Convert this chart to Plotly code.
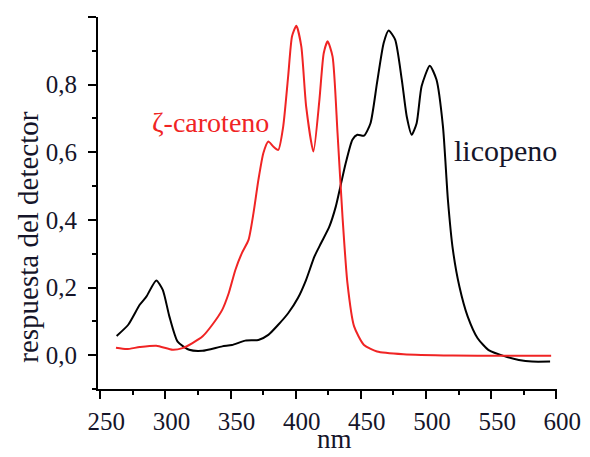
import plotly.graph_objects as go

# licopeno (black)
lic_x = [262.6, 271.5, 280.3, 285.4, 293.0, 298.0, 303.1, 309.4, 318.3, 328.4, 343.6, 351.1, 361.3,
         371.4, 379.0, 386.6, 394.2, 401.7, 408.0, 414.4, 419.4, 425.8, 430.8, 434.6, 438.4, 443.5,
         447.3, 452.4, 457.4, 462.4, 467.5, 471.3, 476.3, 481.4, 485.2, 489.0, 492.8, 496.6, 502.9,
         508.0, 513.0, 516.8, 520.6, 525.6, 532.0, 539.6, 548.4, 561.1, 571.2, 581.3, 595.2]
lic_y = [0.057, 0.090, 0.149, 0.173, 0.221, 0.193, 0.114, 0.040, 0.016, 0.013, 0.026, 0.030, 0.043,
         0.045, 0.060, 0.090, 0.124, 0.169, 0.223, 0.292, 0.331, 0.380, 0.440, 0.504, 0.568, 0.637,
         0.652, 0.649, 0.686, 0.805, 0.923, 0.960, 0.933, 0.815, 0.706, 0.652, 0.686, 0.795, 0.856,
         0.815, 0.676, 0.459, 0.312, 0.203, 0.114, 0.050, 0.014, -0.004, -0.014, -0.019, -0.019]

# zeta-caroteno (red)
car_x = [262.1, 270.3, 280.3, 293.0, 305.6, 313.2, 320.8, 328.4, 336.0, 343.6, 348.6, 353.7, 358.7,
         363.8, 367.6, 371.4, 375.2, 379.0, 382.8, 386.6, 390.4, 394.2, 397.2, 400.5, 404.3, 408.0,
         413.6, 418.2, 421.5, 424.5, 428.3, 432.1, 435.9, 439.7, 444.8, 452.4, 462.4, 482.7, 520.6,
         558.5, 596.0]
car_y = [0.022, 0.018, 0.024, 0.028, 0.016, 0.021, 0.036, 0.055, 0.090, 0.134, 0.183, 0.252, 0.302,
         0.341, 0.420, 0.519, 0.598, 0.632, 0.617, 0.607, 0.676, 0.824, 0.943, 0.974, 0.913, 0.736,
         0.602, 0.755, 0.893, 0.928, 0.883, 0.657, 0.410, 0.213, 0.085, 0.030, 0.011, 0.003, -0.001,
         -0.002, -0.002]

y_tickvals = [0.0, 0.2, 0.4, 0.6, 0.8, 1.0]
y_ticktext = ["0,0", "0,2", "0,4", "0,6", "0,8", ""]
x_tickvals = [250, 300, 350, 400, 450, 500, 550, 600]

FONT = "Liberation Serif"
TXT = "#15152a"
RED = "#f02424"

# the page adds an 8px body margin; compensate
OFF = 8
W, H = 590 - OFF, 457 - OFF
L, R, T, B = 98, 562, 17, 389   # plot-area edges in screenshot pixels

fig = go.Figure()
fig.add_trace(go.Scatter(x=lic_x, y=lic_y, mode="lines",
                         line=dict(color="black", width=2, shape="spline", smoothing=0.6)))
fig.add_trace(go.Scatter(x=car_x, y=car_y, mode="lines",
                         line=dict(color=RED, width=2, shape="spline", smoothing=0.6)))


def pix(px, py):
    return dict(xref="paper", yref="paper", x=(px - L) / (R - L), y=(B - py) / (B - T),
                xanchor="center", yanchor="middle", showarrow=False)


fig.update_layout(
    width=W, height=H,
    margin=dict(l=L - OFF, r=590 - R, t=T - OFF, b=457 - B),
    paper_bgcolor="white", plot_bgcolor="white",
    showlegend=False,
    font=dict(family=FONT, color=TXT, size=25),
    xaxis=dict(range=[248.3, 600.5], showgrid=False, zeroline=False,
               showline=True, linecolor="black", linewidth=2,
               tickmode="array", tickvals=x_tickvals,
               ticks="outside", ticklen=8, tickwidth=2, tickcolor="black",
               minor=dict(tickmode="linear", tick0=275, dtick=50, ticks="outside",
                          ticklen=4, tickwidth=2, tickcolor="black"),
               tickfont=dict(size=25, family=FONT, color=TXT),
               ticklabelshift=6, ticklabelstandoff=1),
    yaxis=dict(range=[-0.1, 1.0], showgrid=False, zeroline=False,
               showline=True, linecolor="black", linewidth=2,
               tickmode="array", tickvals=y_tickvals, ticktext=y_ticktext,
               ticks="outside", ticklen=8, tickwidth=2, tickcolor="black",
               minor=dict(tickmode="array", tickvals=[-0.1, 0.1, 0.3, 0.5, 0.7, 0.9], ticks="outside",
                          ticklen=4, tickwidth=2, tickcolor="black"),
               tickfont=dict(size=25, family=FONT, color=TXT),
               ticklabelstandoff=6),
    annotations=[
        dict(text="ζ-caroteno", font=dict(size=28, family=FONT, color=RED), **pix(211.7, 123)),
        dict(text="licopeno", font=dict(size=30, family=FONT, color=TXT), **pix(510, 150)),
        dict(text="nm", font=dict(size=27, family=FONT, color=TXT), **pix(337, 439)),
        dict(text="respuesta del detector", textangle=-90,
             font=dict(size=29, family=FONT, color=TXT), **pix(27, 237)),
    ],
)

fig.write_html("out.html")
